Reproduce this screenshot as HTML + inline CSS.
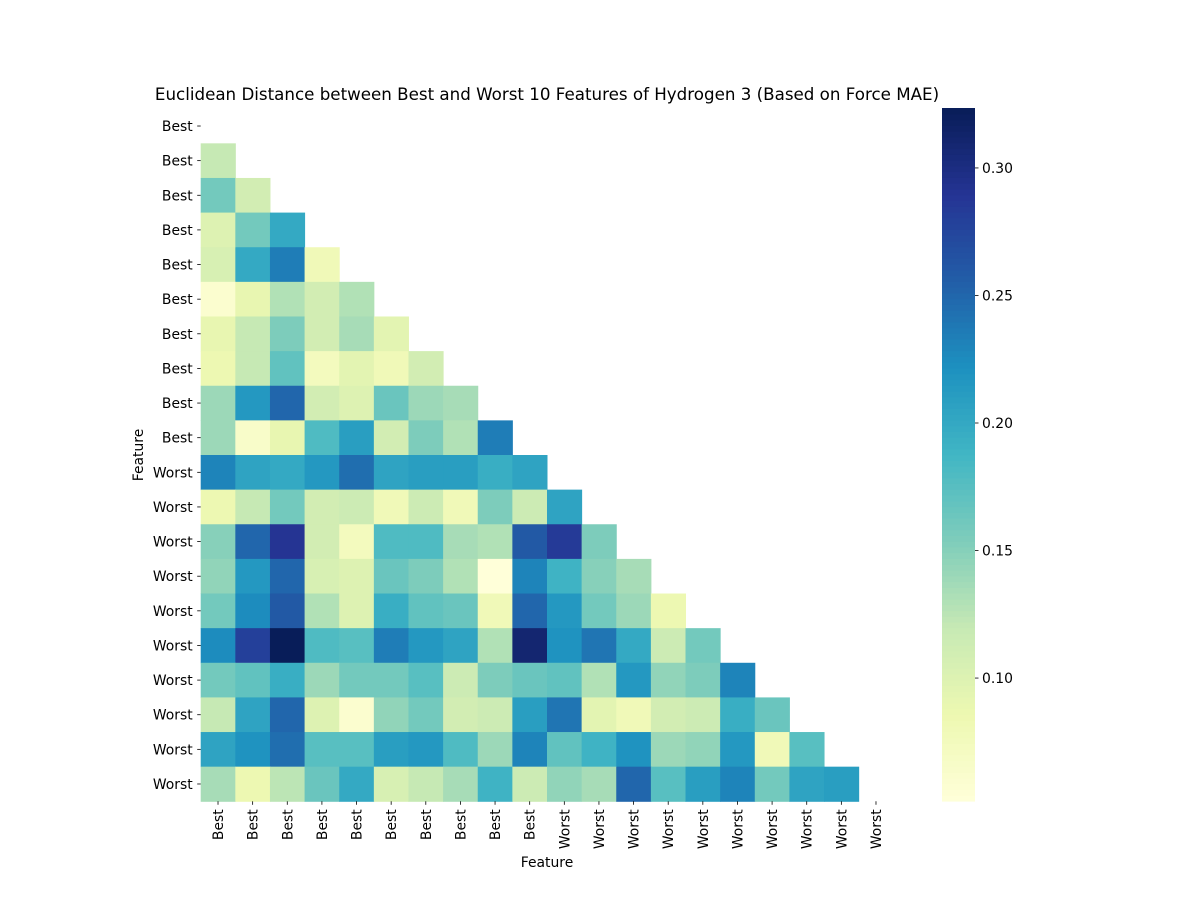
<!DOCTYPE html>
<html><head><meta charset="utf-8"><style>
body{margin:0;background:#fff}
svg text{font-family:"DejaVu Sans","Liberation Sans",sans-serif;fill:#000}
</style></head><body>
<svg id="chart" width="1200" height="900" xmlns="http://www.w3.org/2000/svg">
<text x="547" y="100" font-size="16.7" text-anchor="middle">Euclidean Distance between Best and Worst 10 Features of Hydrogen 3 (Based on Force MAE)</text>
<text x="547" y="867" font-size="13.9" text-anchor="middle">Feature</text>
<text x="0" y="0" font-size="13.9" text-anchor="middle" transform="translate(143,455) rotate(-90)">Feature</text>
<g id="cells"></g><g id="ticks"></g><g id="cbar"></g>
</svg>
<script>
const labels=["Best","Best","Best","Best","Best","Best","Best","Best","Best","Best","Worst","Worst","Worst","Worst","Worst","Worst","Worst","Worst","Worst","Worst"];
const values=[
[],
[0.12],
[0.16,0.11],
[0.10,0.16,0.20],
[0.105,0.20,0.235,0.08],
[0.06,0.09,0.13,0.11,0.13],
[0.09,0.12,0.155,0.11,0.135,0.095],
[0.085,0.12,0.17,0.075,0.095,0.08,0.11],
[0.14,0.215,0.25,0.11,0.10,0.165,0.14,0.135],
[0.14,0.065,0.09,0.18,0.21,0.11,0.155,0.13,0.235],
[0.23,0.205,0.20,0.215,0.245,0.205,0.21,0.21,0.195,0.205],
[0.085,0.12,0.16,0.11,0.115,0.08,0.115,0.08,0.155,0.115,0.205],
[0.15,0.25,0.29,0.11,0.075,0.18,0.18,0.135,0.13,0.26,0.285,0.155],
[0.145,0.215,0.25,0.105,0.10,0.165,0.155,0.13,0.052,0.23,0.19,0.15,0.135],
[0.16,0.225,0.26,0.13,0.10,0.195,0.17,0.165,0.08,0.25,0.215,0.16,0.14,0.085],
[0.225,0.28,0.323,0.18,0.175,0.235,0.215,0.205,0.13,0.31,0.22,0.24,0.20,0.115,0.16],
[0.16,0.17,0.195,0.14,0.16,0.16,0.175,0.115,0.155,0.165,0.17,0.13,0.215,0.145,0.155,0.23],
[0.12,0.205,0.25,0.10,0.06,0.145,0.16,0.11,0.115,0.21,0.24,0.095,0.08,0.11,0.115,0.195,0.165],
[0.205,0.22,0.245,0.175,0.175,0.21,0.215,0.18,0.14,0.23,0.17,0.19,0.22,0.14,0.145,0.215,0.08,0.175],
[0.135,0.085,0.125,0.165,0.2,0.105,0.12,0.135,0.19,0.115,0.145,0.135,0.25,0.175,0.21,0.23,0.16,0.205,0.21]
];
const cbTicks=[0.10,0.15,0.20,0.25,0.30];
const vmin=0.0518,vmax=0.3235;
const stops=[[255,255,217],[237,248,177],[199,233,180],[127,205,187],[65,182,196],[29,145,192],[34,94,168],[37,52,148],[8,29,88]];
function cmap(v){let t=(v-vmin)/(vmax-vmin);t=Math.max(0,Math.min(1,t))*8;const i=Math.min(7,Math.floor(t)),f=t-i;const a=stops[i],b=stops[i+1];return `rgb(${a.map((c,k)=>Math.round(c+(b[k]-c)*f)).join(',')})`;}
const NS="http://www.w3.org/2000/svg";
const L=200.7,T=108.7,S=34.63;
const xs=i=>L+i*S, ys=i=>T+i*S;
function mk(tag,attrs,parent){const e=document.createElementNS(NS,tag);for(const k in attrs)e.setAttribute(k,attrs[k]);parent.appendChild(e);return e;}
const cells=document.getElementById('cells'),ticks=document.getElementById('ticks'),cb=document.getElementById('cbar');
values.forEach((row,r)=>row.forEach((v,c)=>{
 const e=mk('rect',{x:xs(c),y:ys(r),width:S+0.5,height:S+0.5,fill:cmap(v)},cells);
 
 
}));
labels.forEach((lab,i)=>{
 const cy=ys(i)+S/2;
 mk('line',{x1:L-3.5,x2:L,y1:cy,y2:cy,stroke:'#000','stroke-width':0.8},ticks);
 const t=mk('text',{x:L-8,y:cy+5,'font-size':13.9,'text-anchor':'end'},ticks);t.textContent=lab;
 
 
 const cx=xs(i)+S/2,by=T+20*S;
 mk('line',{x1:cx,x2:cx,y1:by,y2:by+3.5,stroke:'#000','stroke-width':0.8},ticks);
 const u=mk('text',{x:0,y:0,'font-size':13.9,'text-anchor':'end',transform:`translate(${cx+5},${by+8}) rotate(-90)`},ticks);u.textContent=lab;
 
 
});
const cbx=942,cbw=33,cbt=108,cbb=801,N=120;
for(let k=0;k<N;k++){const v=vmin+(vmax-vmin)*(k+0.5)/N;const h=(cbb-cbt)/N;
 const e=mk('rect',{x:cbx,y:cbb-(k+1)*h,width:cbw,height:h+0.6,fill:cmap(v)},cb);
 
 }
const cy=v=>cbb-(v-vmin)/(vmax-vmin)*(cbb-cbt);
cbTicks.forEach(v=>{
 mk('line',{x1:cbx+cbw,x2:cbx+cbw+3.5,y1:cy(v),y2:cy(v),stroke:'#000','stroke-width':0.8},cb);
 const t=mk('text',{x:cbx+cbw+7,y:cy(v)+5,'font-size':13.9},cb);t.textContent=v.toFixed(2);
 
 
});
</script>
</body></html>
